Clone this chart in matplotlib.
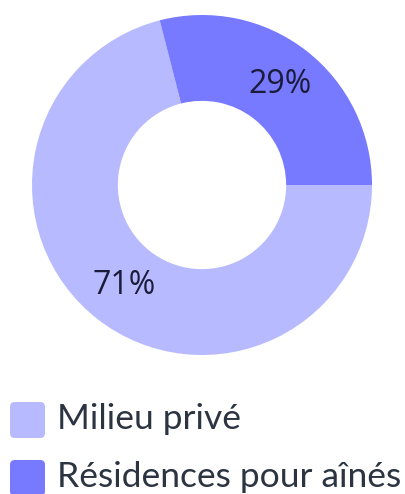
import matplotlib
matplotlib.use("Agg")
import matplotlib.pyplot as plt
from matplotlib.patches import FancyBboxPatch

labels = ["Milieu privé", "Résidences pour aînés"]
values = [71, 29]
colors = ["#b8baff", "#7779ff"]

fig = plt.figure(figsize=(4.05, 4.94), dpi=100)
ax = fig.add_axes([32/405, 1 - (185+170)/494, 340/405, 340/494])
wedges, texts, autotexts = ax.pie(
    values, colors=colors, startangle=104.4, counterclock=True,
    radius=1.0, wedgeprops=dict(width=0.505, linewidth=0),
    autopct=lambda p: f"{p:.0f}%", pctdistance=0.745,
    textprops=dict(fontsize=23, color="#1b1b3a", family="Open Sans"))
ax.set_xlim(-1, 1)
ax.set_ylim(-1, 1)
ax.set_aspect("equal")
ax.axis("off")

# legend
y_tops = [402, 460]
for i, (lab, col) in enumerate(zip(labels, colors)):
    y0 = y_tops[i]
    box = FancyBboxPatch((10/405, 1 - (y0+36)/494), 35/405, 36/494,
                         boxstyle="round,pad=0,rounding_size=0.012",
                         transform=fig.transFigure, facecolor=col,
                         edgecolor="none", mutation_aspect=405/494)
    fig.patches.append(box)
    fig.text(57/405, 1 - (y0+17)/494, lab, fontsize=25.5, family="Lato",
             color="#2b3440", va="center", ha="left")

fig.savefig("out.png", dpi=100)
